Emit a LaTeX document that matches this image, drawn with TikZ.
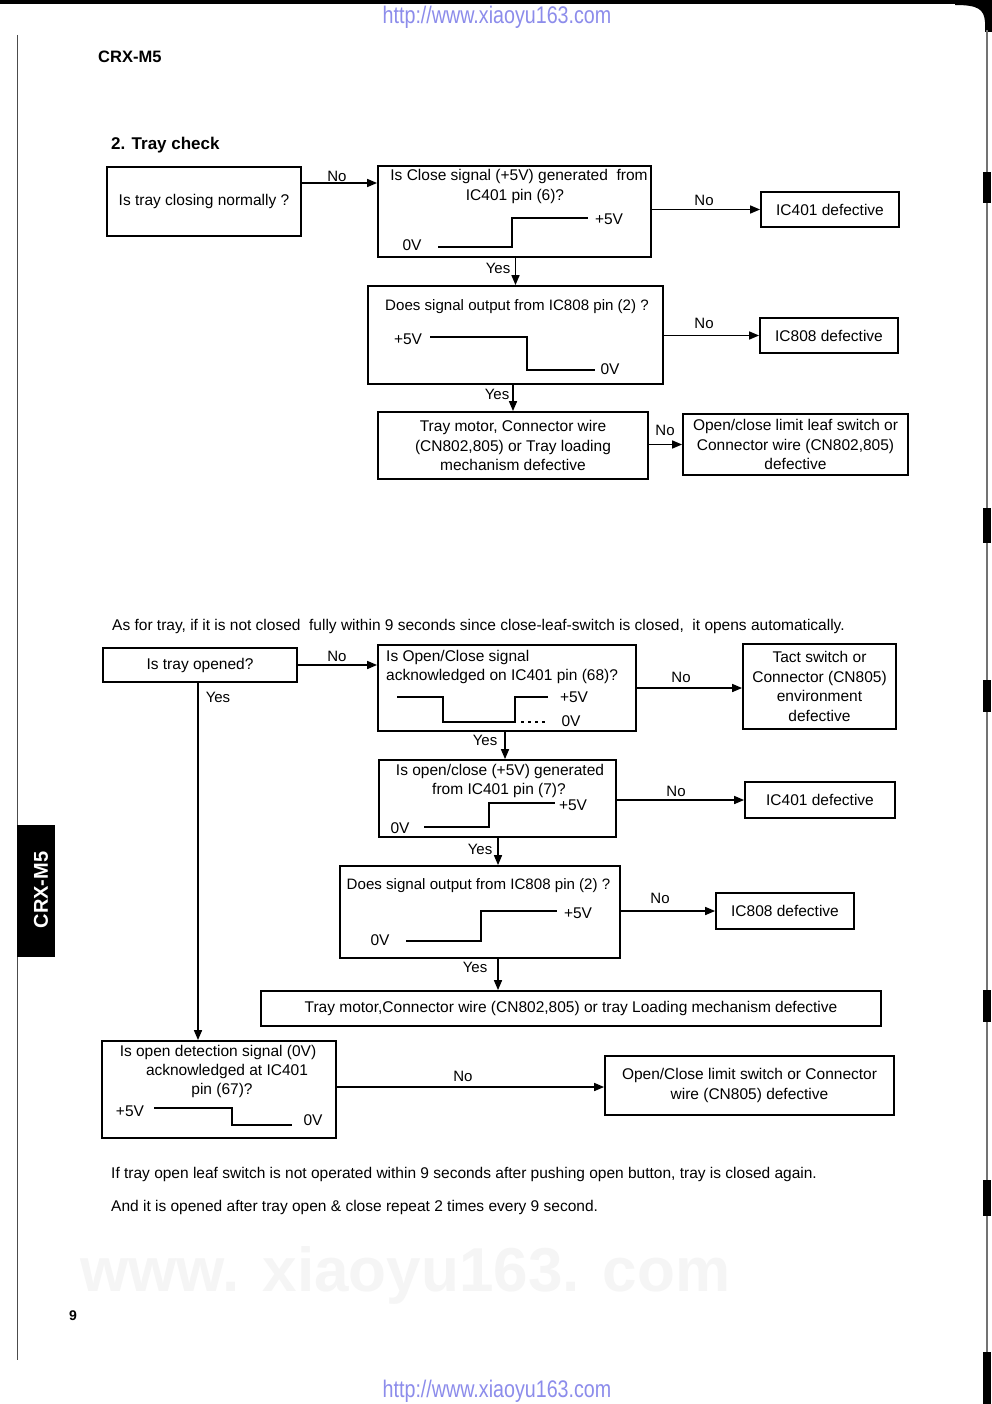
\documentclass[tikz,border=0pt]{standalone}
\usepackage{fontspec}
\setmainfont{Liberation Sans}
\newfontfamily\urlfont[FakeStretch=0.82]{Liberation Sans}
\usetikzlibrary{arrows.meta}
\definecolor{urlblue}{RGB}{140,140,235}
\definecolor{wm}{RGB}{245,245,245}
\begin{document}
\begin{tikzpicture}[x=1pt,y=-1pt,
  font=\fontsize{15.5}{19.5}\selectfont,
  box/.style={draw, line width=1.8pt, inner sep=2pt, align=center},
  lbl/.style={inner sep=0pt, font=\fontsize{15}{18}\selectfont},
  txt/.style={inner sep=0pt},
  sig/.style={line width=1.6pt},
  arr/.style={line width=1.6pt, -{Triangle[length=10pt,width=8pt]}},
  wmark/.style={text=wm, font=\fontsize{#1}{#1}\selectfont\bfseries, inner sep=0pt}]
\useasboundingbox (0,0) rectangle (992,1404);
\fill[white] (0,0) rectangle (992,1404);

% faint watermark
\node[wmark=62, anchor=west] (wm6) at (80,1275) {www. xiaoyu163. com};

% scan edges
\fill (0,0) rectangle (965,4);
\fill (955,0) -- (992,0) -- (992,32) -- (985,32) -- (985,22) .. controls (984,9) and (978,5) .. (955,5) -- cycle;
\draw[line width=1.5pt, black!55] (987,30) -- (987,1404);
\foreach \a/\b in {172/203,508/543,680/712,990/1022,1180/1216,1352/1404}
  \fill (983,\a) rectangle (991,\b);
\draw[line width=0.8pt, black!70] (17,35) -- (17,1360);

% urls
\node[txt, text=urlblue, font=\urlfont\fontsize{24}{24}\selectfont] (url1) at (497,17) {http://www.xiaoyu163.com};
\node[txt, anchor=base, text=urlblue, font=\urlfont\fontsize{24}{24}\selectfont] (url2) at (497,1397) {http://www.xiaoyu163.com};

% header
\node[txt, anchor=west, font=\fontsize{16.5}{18}\selectfont\bfseries] (hdr) at (98,57) {CRX-M5};
\node[txt, anchor=west, font=\fontsize{17}{20}\selectfont\bfseries] (ttl) at (111,145) {2. Tray check};

% side tab
\fill (17,825) rectangle (55,957);
\node[txt, rotate=90, text=white, font=\fontsize{20}{20}\selectfont\bfseries] (tab) at (41,890) {CRX-M5};

% page number
\node[txt, font=\fontsize{14}{16}\selectfont\bfseries] (pg) at (73,1316) {9};

% ---------- top flow ----------
\node[box, minimum width=194pt, minimum height=69pt] (A) at (204,201.5) {Is tray closing normally ?};
\node[box, minimum width=273pt, minimum height=91pt] (B) at (514.5,211.5) {};
\node[txt] (Bt1) at (519,176) {Is Close signal (+5V) generated\ \ from};
\node[txt] (Bt2) at (515,196) {IC401 pin (6)?};
\draw[sig] (438,247) -- (512,247) -- (512,218) -- (588,218);
\node[txt] (B0) at (412,245) {0V};
\node[txt] (B5) at (609,219) {+5V};
\node[box, minimum width=138pt, minimum height=35pt] (C) at (830,209.5) {IC401 defective};

\node[box, minimum width=295pt, minimum height=98pt] (D) at (515.5,335) {};
\node[txt, font=\fontsize{15.1}{19}\selectfont] (Dt) at (517,307) {Does signal output from IC808 pin (2) ?};
\draw[sig] (430,337) -- (527,337) -- (527,370) -- (595,370);
\node[txt] (D5) at (408,339) {+5V};
\node[txt] (D0) at (610,369) {0V};
\node[box, minimum width=138pt, minimum height=35pt] (E) at (829,335.5) {IC808 defective};

\node[box, minimum width=270pt, minimum height=67pt] (F) at (513,445.5) {Tray motor, Connector wire\\(CN802,805) or Tray loading\\mechanism defective};
\node[box, minimum width=225pt, minimum height=61pt] (G) at (795.5,444.5) {Open/close limit leaf switch or\\Connector wire (CN802,805)\\defective};

\draw[arr] (A.east |- 0,183) -- (B.west |- 0,183);
\draw[arr] (B.east |- C.west) -- (C.west);
\draw[arr] (D.north |- B.south) -- (D.north);
\draw[arr] (D.east |- E.west) -- (E.west);
\draw[arr] (F.north |- D.south) -- (F.north);
\draw[arr] (F.east |- G.west) -- (G.west);
\node[lbl] (l1) at (337,176) {No};
\node[lbl] (l2) at (704,200) {No};
\node[lbl] (l3) at (498,268) {Yes};
\node[lbl] (l4) at (704,323) {No};
\node[lbl] (l5) at (497,394) {Yes};
\node[lbl] (l6) at (665,430) {No};

% middle sentence
\node[txt, anchor=west] (s1) at (112,626) {As for tray, if it is not closed\ \ fully within 9 seconds since close-leaf-switch is closed,\ \ it opens automatically.};

% ---------- lower flow ----------
\node[box, minimum width=194pt, minimum height=34pt] (H) at (200,665) {Is tray opened?};
\node[box, minimum width=258pt, minimum height=86pt] (I) at (507,688) {};
\node[txt, anchor=west] (It1) at (386,657) {Is Open/Close signal};
\node[txt, anchor=west] (It2) at (386,676) {acknowledged on IC401 pin (68)?};
\draw[sig] (397,697) -- (443,697) -- (443,722) -- (515,722) -- (515,697) -- (548,697);
\draw[sig, dash pattern=on 3pt off 4pt] (521,722) -- (548,722);
\node[txt] (I5) at (574,697) {+5V};
\node[txt] (I0) at (571,721) {0V};
\node[box, minimum width=153pt, minimum height=85pt] (J) at (819.5,686.5) {Tact switch or\\Connector (CN805)\\environment\\defective};

\node[box, minimum width=237pt, minimum height=77pt] (K) at (497.5,798.5) {};
\node[txt] (Kt1) at (500,771) {Is open/close (+5V) generated};
\node[txt] (Kt2) at (499,790) {from IC401 pin (7)?};
\draw[sig] (424,827) -- (489,827) -- (489,803) -- (555,803);
\node[txt] (K0) at (400,828) {0V};
\node[txt] (K5) at (573,805) {+5V};
\node[box, minimum width=150pt, minimum height=36pt] (L) at (820,800) {IC401 defective};

\node[box, minimum width=280pt, minimum height=92pt] (M) at (480,912) {};
\node[txt, font=\fontsize{15.1}{19}\selectfont] (Mt) at (478.5,886) {Does signal output from IC808 pin (2) ?};
\draw[sig] (406,941) -- (481,941) -- (481,911) -- (557,911);
\node[txt] (M0) at (380,940) {0V};
\node[txt] (M5) at (578,913) {+5V};
\node[box, minimum width=138pt, minimum height=36pt] (N) at (785,911) {IC808 defective};

\node[box, minimum width=620pt, minimum height=35pt] (O) at (571,1008.5) {Tray motor,Connector wire (CN802,805) or tray Loading mechanism defective};

\node[box, minimum width=234pt, minimum height=97pt] (P) at (219,1089.5) {};
\node[txt] (Pt1) at (218,1052) {Is open detection signal (0V)};
\node[txt] (Pt2) at (227,1071) {acknowledged at IC401};
\node[txt] (Pt3) at (222,1090) {pin (67)?};
\draw[sig] (154,1108) -- (232,1108) -- (232,1125) -- (292,1125);
\node[txt] (P5) at (130,1111) {+5V};
\node[txt] (P0) at (313,1120) {0V};
\node[box, minimum width=289pt, minimum height=59pt] (Q) at (749.5,1085.5) {Open/Close limit switch or Connector\\wire (CN805) defective};

\draw[arr] (H.east) -- (I.west |- H.east);
\draw[arr] (I.east) -- (J.west |- I.east);
\draw[arr] (I.south -| 505,0) -- (K.north -| 505,0);
\draw[arr] (K.east |- L.west) -- (L.west);
\draw[arr] (K.south -| 498,0) -- (M.north -| 498,0);
\draw[arr] (M.east |- N.west) -- (N.west);
\draw[arr] (M.south -| 498,0) -- (O.north -| 498,0);
\draw[arr] (H.south -| 198,0) -- (P.north -| 198,0);
\draw[arr] (P.east |- 0,1087) -- (Q.west |- 0,1087);
\node[lbl] (m1) at (337,656) {No};
\node[lbl] (m2) at (681,677) {No};
\node[lbl] (m3) at (485,740) {Yes};
\node[lbl] (m4) at (676,791) {No};
\node[lbl] (m5) at (480,849) {Yes};
\node[lbl] (m6) at (660,898) {No};
\node[lbl] (m7) at (475,967) {Yes};
\node[lbl] (m8) at (218,697) {Yes};
\node[lbl] (m9) at (463,1076) {No};

% bottom notes
\node[txt, anchor=west] (n1) at (111,1174) {If tray open leaf switch is not operated within 9 seconds after pushing open button, tray is closed again.};
\node[txt, anchor=west] (n2) at (111,1207) {And it is opened after tray open \& close repeat 2 times every 9 second.};
\end{tikzpicture}
\end{document}
